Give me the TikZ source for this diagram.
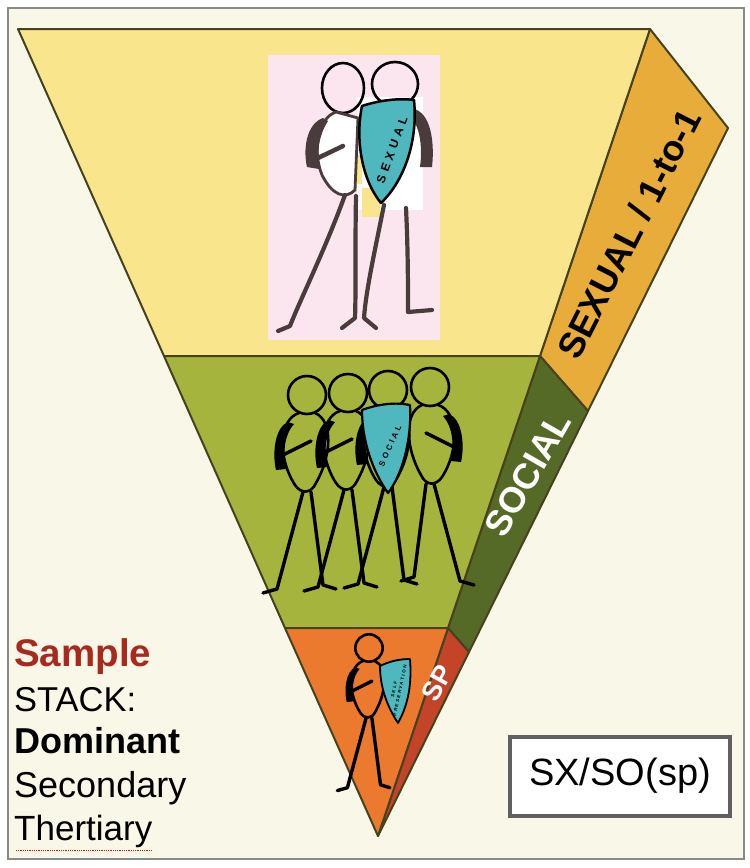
\documentclass[tikz,border=0pt]{standalone}
\usepackage{fontspec}
\setmainfont{Liberation Sans}
\newfontfamily\shieldfont[LetterSpace=35]{Liberation Sans}
\definecolor{cream}{RGB}{248,247,232}
\definecolor{framegray}{RGB}{138,138,138}
\definecolor{edge}{RGB}{70,66,30}
\definecolor{sxfront}{RGB}{249,229,140}
\definecolor{sxside}{RGB}{232,172,58}
\definecolor{sofront}{RGB}{164,180,60}
\definecolor{soside}{RGB}{86,106,40}
\definecolor{spfront}{RGB}{236,122,46}
\definecolor{spside}{RGB}{196,68,42}
\definecolor{pinkbg}{RGB}{251,230,239}
\definecolor{shield}{RGB}{79,184,190}
\definecolor{skin}{RGB}{74,60,60}
\definecolor{samplered}{RGB}{168,42,30}
\definecolor{boxgray}{RGB}{96,96,96}
\begin{document}
\begin{tikzpicture}[x=1pt,y=-1pt,
face/.style={draw=edge,line width=2pt,line join=round},
fig/.style={line width=2.6pt,line join=round,line cap=round},
legline/.style={line width=3.4pt,line join=round,line cap=round},
darkleg/.style={skin,line width=4.2pt,line cap=round,line join=round},
shieldshape/.style={fill=shield,draw=black,line width=2.2pt,line join=round},
legend/.style={anchor=base west,inner sep=0pt,font=\fontsize{36}{36}\selectfont},
sidelabel/.style={font=\bfseries\fontsize{36}{36}\selectfont},
stickman/.pic={
\draw[fig] (0,0) circle (19);
\draw[fig] (-8,18) .. controls (-28,24) and (-30,62) .. (-12,90) .. controls (-6,99) and (4,99) .. (9,88) .. controls (24,62) and (27,26) .. (8,18);
\fill (-19,27) .. controls (-32,32) and (-35,58) .. (-31,75) -- (-21,74) .. controls (-24,58) and (-23,40) .. (-13,29) -- cycle;
\draw[legline] (-24,60) -- (4,46);
\draw[legline] (-4,97) -- (-30,194) -- (-44,198);
\draw[legline] (4,97) -- (16,190) -- (29,194);
}]
\useasboundingbox (0,0) rectangle (750,868);
\fill[white] (0,0) rectangle (750,868);
\draw[framegray,line width=1.5pt,fill=cream] (8,8) rectangle (744,859);

% side of the cone
\draw[face,fill=sxside] (650,29) -- (728,128) -- (588,411) -- (540,356) -- cycle;
\draw[face,fill=soside] (540,356) -- (588,411) -- (469,652) -- (448,628) -- cycle;
\draw[face,fill=spside] (448,628) -- (469,652) -- (378,836) -- cycle;
% front of the cone
\draw[face,fill=sxfront] (18,29) -- (650,29) -- (540,356) -- (164,356) -- cycle;
\draw[face,fill=sofront] (164,356) -- (540,356) -- (448,628) -- (285,628) -- cycle;
\draw[face,fill=spfront] (285,628) -- (448,628) -- (378,836) -- cycle;

\node[sidelabel,rotate=63] (sxlabel) at (629,234) {SEXUAL / 1-to-1};
\node[sidelabel,rotate=60,text=white] (solabel) at (528,474) {SOCIAL};
\node[rotate=61,text=white,font=\bfseries\fontsize{27}{27}\selectfont] (splabel) at (437,683) {SP};

% sexual: two figures
\fill[pinkbg] (268,55) rectangle (440,340);
\fill[white] (357,97) rectangle (423,210);
\fill[sxfront] (343,155) rectangle (362,184);
\fill[sxfront] (362,188) rectangle (380,217);
\draw[fig,draw=black] (343,88) ellipse (21 and 25);
\draw[fig,draw=black] (395,84) ellipse (23 and 22);
\filldraw[fill=white,draw=skin,line width=2.8pt] (336,112) .. controls (318,118) and (312,150) .. (322,175) .. controls (332,195) and (345,200) .. (355,190) -- (358,118) -- cycle;
\fill[skin] (323,118) .. controls (306,124) and (303,150) .. (307,167) -- (319,169) .. controls (317,150) and (319,135) .. (328,121) -- cycle;
\draw[skin,line width=4.5pt,line cap=round] (318,158) -- (343,146);
\fill[skin] (414,109) .. controls (430,113) and (435,140) .. (432,167) -- (420,167) .. controls (423,145) and (419,125) .. (411,118) -- cycle;
\draw[darkleg] (345,195) .. controls (325,250) and (300,300) .. (290,326) -- (278,331);
\draw[darkleg] (356,196) .. controls (355,250) and (356,290) .. (355,318) -- (342,328);
\draw[darkleg] (384,205) .. controls (375,250) and (366,290) .. (364,318) -- (376,328);
\draw[darkleg] (406,208) .. controls (408,250) and (408,285) .. (408,312) -- (432,310);
\filldraw[shieldshape,line width=2.5pt] (362,106) .. controls (380,100) and (400,98) .. (414,100) .. controls (418,140) and (405,180) .. (381,203) .. controls (362,180) and (355,140) .. cycle;
\node[rotate=70,font=\shieldfont\bfseries\fontsize{12}{12}\selectfont] (sxshield) at (392,150) {SEXUAL};

% social: four figures
\pic at (307,395) {stickman};
\pic at (348,393) {stickman};
\pic at (388,390) {stickman};
\pic[xscale=-1] at (430,387) {stickman};
\filldraw[shieldshape] (362,410) .. controls (378,404) and (396,402) .. (410,405) .. controls (412,440) and (402,475) .. (388,493) .. controls (372,470) and (362,440) .. cycle;
\node[rotate=66,font=\shieldfont\bfseries\fontsize{8}{8}\selectfont] (soshield) at (390,446) {SOCIAL};

% self-preservation: one figure
\pic[scale=.72] at (369,648) {stickman};
\filldraw[shieldshape,line width=1.8pt] (380,666) .. controls (390,661) and (400,659) .. (410,659) .. controls (412,685) and (408,705) .. (398,723) .. controls (386,705) and (380,685) .. cycle;
\node[rotate=78,align=center,font=\shieldfont\bfseries\fontsize{4.5}{6}\selectfont] (spshield) at (397,690) {SELF\\PRESERVATION};

% the stack
\node[legend,text=samplered,font=\bfseries\fontsize{38.5}{38.5}\selectfont] (sample) at (14,666) {Sample};
\node[legend,font=\fontsize{34.5}{34.5}\selectfont] (stackword) at (14,711) {STACK:};
\node[legend,font=\bfseries\fontsize{36}{36}\selectfont] (dominant) at (14,753) {Dominant};
\node[legend] (secondary) at (14,797) {Secondary};
\node[legend,font=\fontsize{35}{35}\selectfont] (tertiary) at (14,840) {Thertiary};
\draw[red,densely dotted,line width=.8pt] (tertiary.south west) ++(2,3) -- ++(136,0);
\node[draw=boxgray,line width=4pt,fill=white,minimum width=220pt,minimum height=79pt,font=\fontsize{38}{38}\selectfont] (stack) at (620,776) {SX/SO(sp)};
\end{tikzpicture}
\end{document}
